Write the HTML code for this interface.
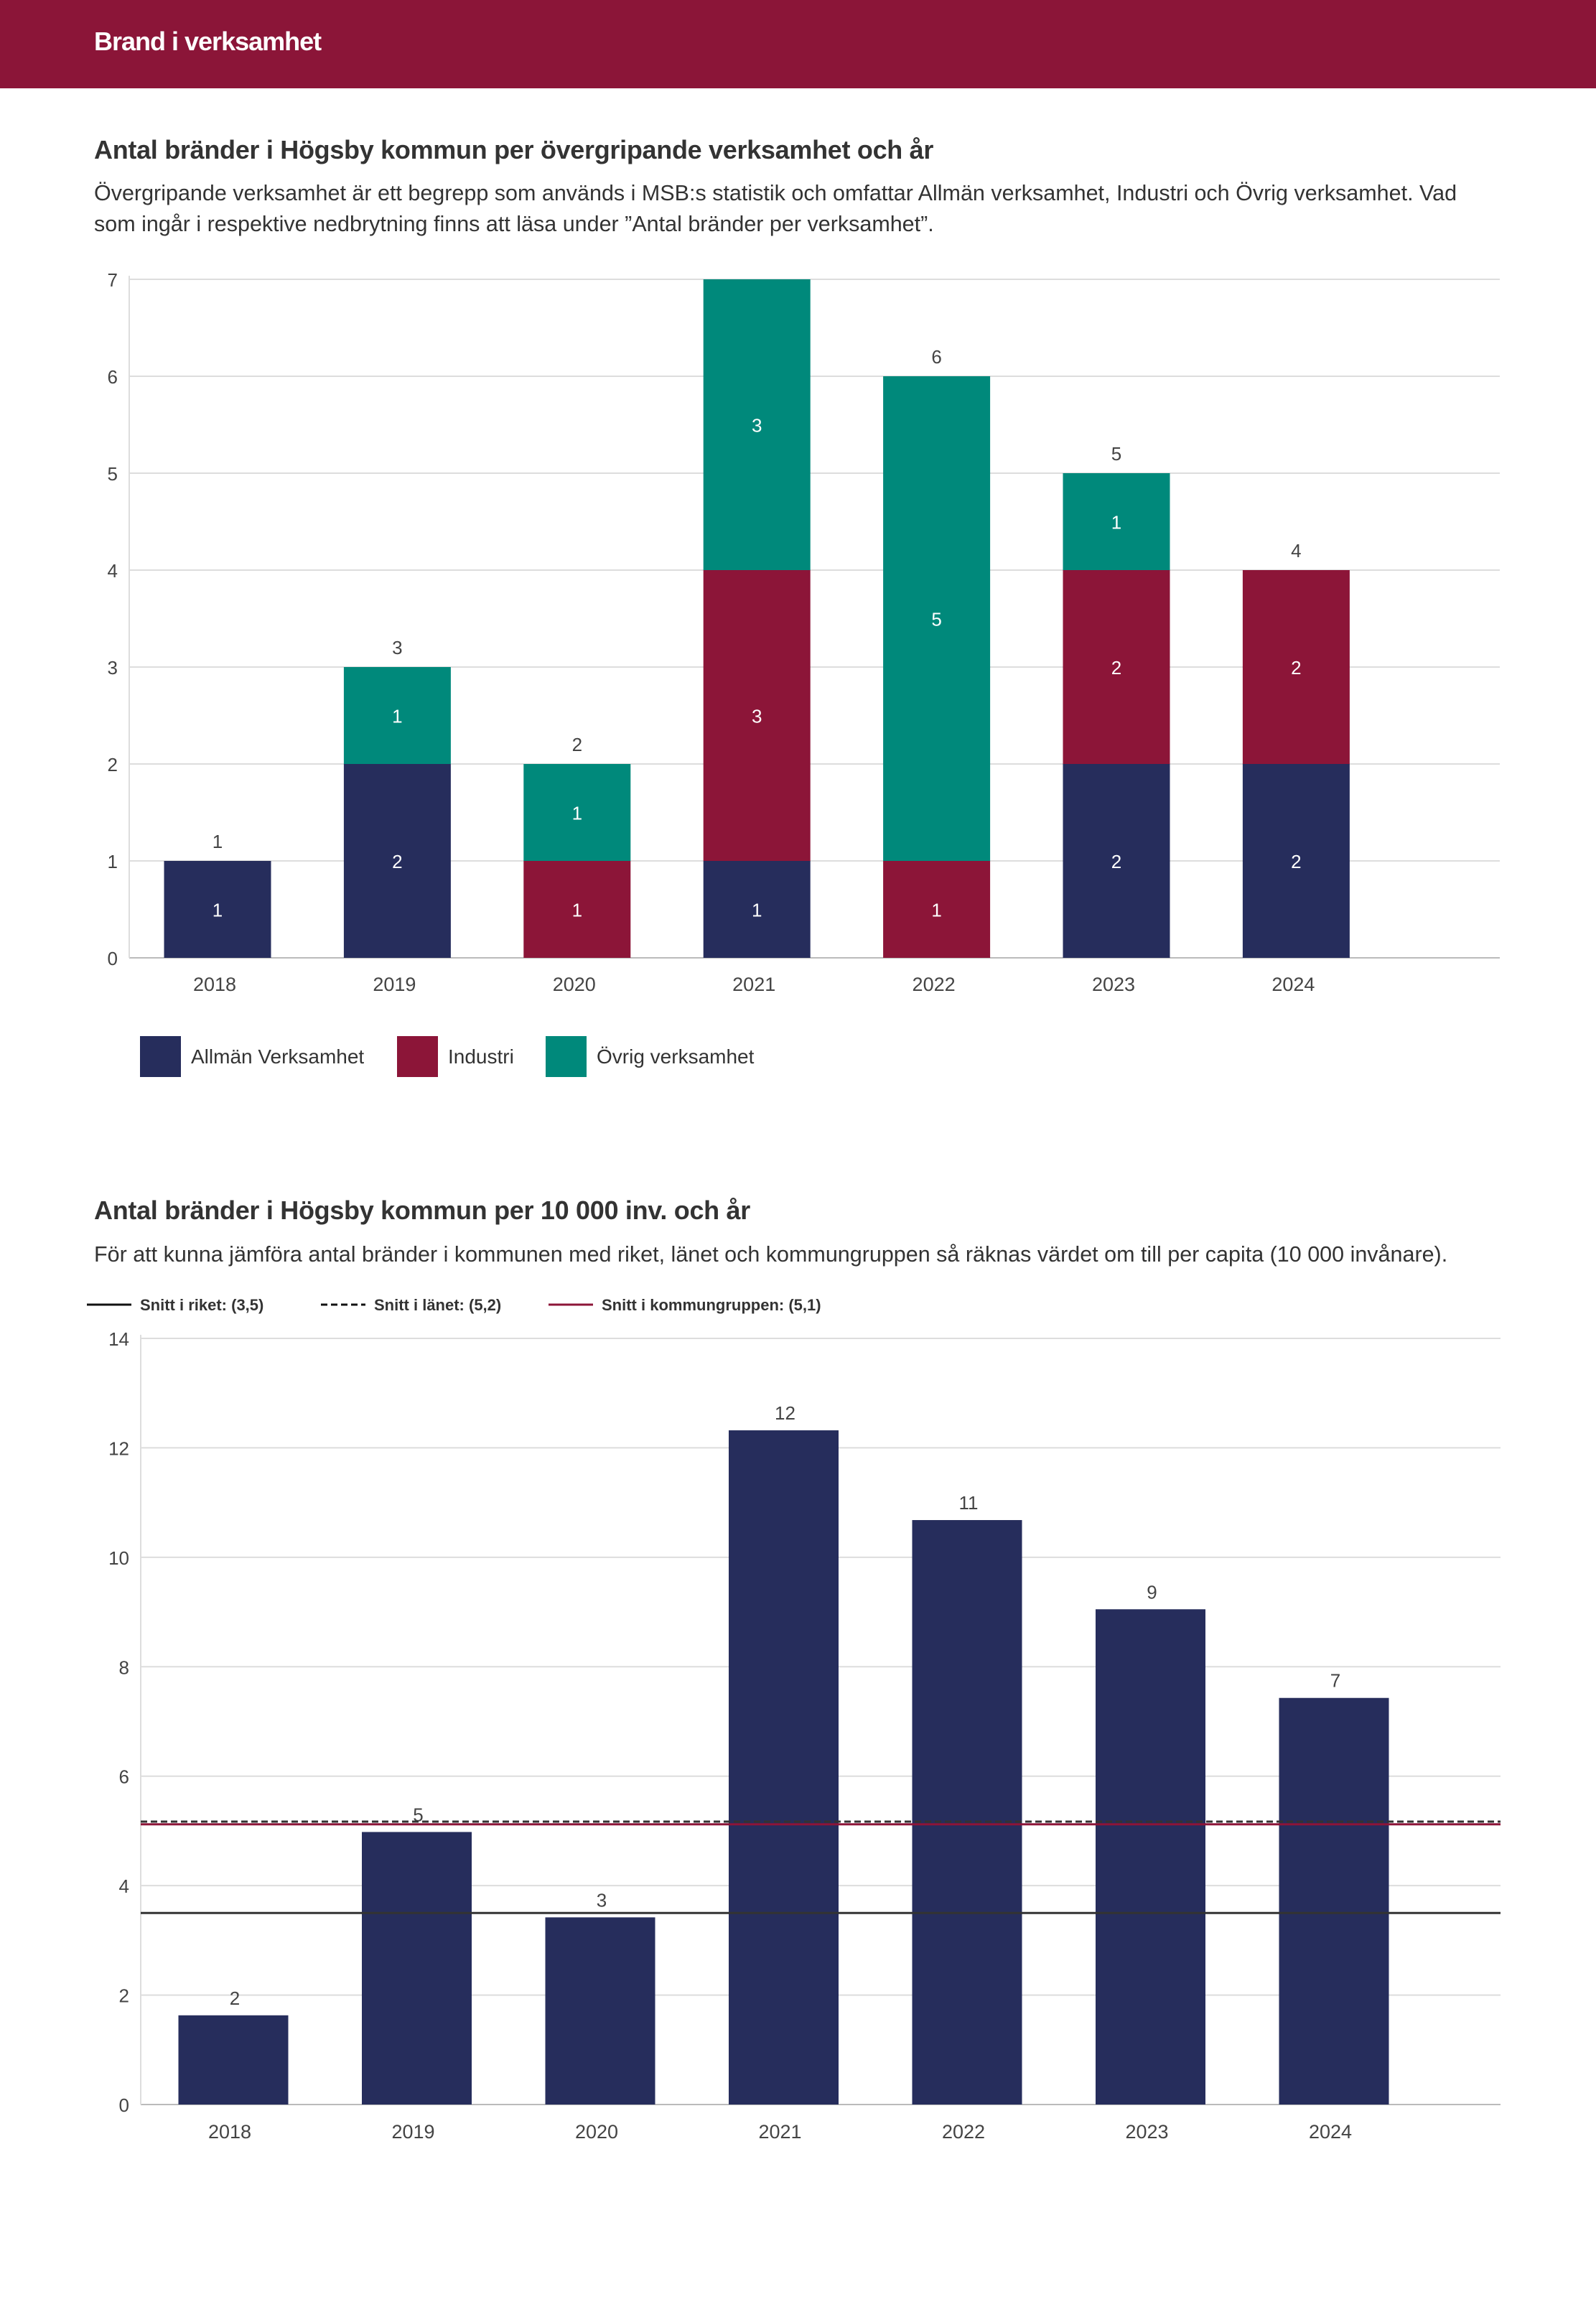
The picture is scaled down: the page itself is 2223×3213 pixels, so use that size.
<!DOCTYPE html>
<html><head><meta charset="utf-8"><style>
html,body{margin:0;padding:0;background:#fff;}
svg{display:block;font-family:"Liberation Sans",sans-serif;}
</style></head><body>
<svg id="root" width="2223" height="3213" viewBox="0 0 2223 3213" xmlns="http://www.w3.org/2000/svg">
<rect x="0" y="0" width="2223" height="123" fill="#8B1538"/>
<text x="131" y="70" fill="#fff" font-size="36" font-weight="bold" letter-spacing="-1">Brand i verksamhet</text>
<text x="131" y="221" fill="#333" font-size="36" font-weight="bold" letter-spacing="-0.3">Antal bränder i Högsby kommun per övergripande verksamhet och år</text>
<text fill="#333" font-size="30.5"><tspan x="131" y="279">Övergripande verksamhet är ett begrepp som används i MSB:s statistik och omfattar Allmän verksamhet, Industri och Övrig verksamhet. Vad</tspan><tspan x="131" y="322">som ingår i respektive nedbrytning finns att läsa under ”Antal bränder per verksamhet”.</tspan></text>
<g id="c1"></g>
<g id="l1"></g>
<text x="131" y="1698" fill="#333" font-size="36" font-weight="bold" letter-spacing="-0.3">Antal bränder i Högsby kommun per 10 000 inv. och år</text>
<text x="131" y="1757" fill="#333" font-size="30.5">För att kunna jämföra antal bränder i kommunen med riket, länet och kommungruppen så räknas värdet om till per capita (10 000 invånare).</text>
<g id="l2"></g>
<g id="c2"></g>
</svg>
<script>
const NS="http://www.w3.org/2000/svg";
const years=["2018","2019","2020","2021","2022","2023","2024"];
const allman=[1,2,0,1,0,2,2];
const industri=[0,0,1,3,1,2,2];
const ovrig=[0,1,1,3,5,1,0];
const yTicks1=[0,1,2,3,4,5,6,7];
const perCapita=[1.63,4.98,3.42,12.32,10.68,9.05,7.43];
const yTicks2=[0,2,4,6,8,10,12,14];
const avgRiket=[3.5];
const avgLanet=[5.17];
const avgGrupp=[5.12];

function mk(p,tag,a,txt){const e=document.createElementNS(NS,tag);for(const k in a)e.setAttribute(k,a[k]);if(txt!=null)e.textContent=txt;p.appendChild(e);return e;}

// Chart 1
(function(){
const g=document.getElementById('c1');
const x0=180,x1=2089,y0=1334,yTop=389,vmax=7;
const ys=v=>y0-(y0-yTop)*v/vmax;
const xc=i=>303+i*250.4;const bw=149;
yTicks1.forEach(t=>{
 const gl=mk(g,'line',{x1:x0,x2:x1,y1:ys(t),y2:ys(t),stroke:t===0?'#bbb':'#ddd','stroke-width':2});
 
 const tl=mk(g,'text',{x:164,y:ys(t)+10,'text-anchor':'end','font-size':26,fill:'#444'},t);
 
});
mk(g,'line',{x1:x0,x2:x0,y1:yTop-5,y2:y0,stroke:'#ddd','stroke-width':2});
const series=[[allman,'#262D5C','allman'],[industri,'#8C1538','industri'],[ovrig,'#00897B','ovrig']];
years.forEach((yr,i)=>{
 let acc=0;
 series.forEach(([arr,col,nm])=>{
  const v=arr[i];if(!v)return;
  const r=mk(g,'rect',{x:xc(i)-bw/2,y:ys(acc+v),width:bw,height:ys(acc)-ys(acc+v),fill:col});
  
  const t=mk(g,'text',{x:xc(i),y:(ys(acc)+ys(acc+v))/2+10,'text-anchor':'middle','font-size':26,fill:'#fff'},v);
  
  acc+=v;
 });
 if(acc<vmax){
 const tt=mk(g,'text',{x:xc(i),y:ys(acc)-18,'text-anchor':'middle','font-size':26,fill:'#444'},acc);
 
 }
 const xl=mk(g,'text',{x:xc(i)-4,y:1380,'text-anchor':'middle','font-size':27,fill:'#444'},yr);
 
});
const L=document.getElementById('l1');
[['Allmän Verksamhet','#262D5C',195],['Industri','#8C1538',553],['Övrig verksamhet','#00897B',760]].forEach(([n,c,x])=>{
 const r=mk(L,'rect',{x:x,y:1443,width:57,height:57,fill:c});
 
 const t=mk(L,'text',{x:x+71,y:1481,'font-size':28,fill:'#333'},n);
 
});
})();

// Chart 2
(function(){
const g=document.getElementById('c2');
const x0=196,x1=2090,y0=2931,yTop=1864,vmax=14;
const ys=v=>y0-(y0-yTop)*v/vmax;
const xc=i=>325+i*255.5;const bw=153;
yTicks2.forEach(t=>{
 const gl=mk(g,'line',{x1:x0,x2:x1,y1:ys(t),y2:ys(t),stroke:t===0?'#bbb':'#ddd','stroke-width':2});
 
 const tl=mk(g,'text',{x:180,y:ys(t)+10,'text-anchor':'end','font-size':26,fill:'#444'},t);
 
});
mk(g,'line',{x1:x0,x2:x0,y1:yTop-5,y2:y0,stroke:'#ddd','stroke-width':2});
years.forEach((yr,i)=>{
 const v=perCapita[i];
 const r=mk(g,'rect',{x:xc(i)-bw/2,y:ys(v),width:bw,height:y0-ys(v),fill:'#262D5C'});
 
 const t=mk(g,'text',{x:xc(i)+2,y:ys(v)-15,'text-anchor':'middle','font-size':26,fill:'#444'},Math.round(v));
 
 const xl=mk(g,'text',{x:xc(i)-5,y:2978,'text-anchor':'middle','font-size':27,fill:'#444'},yr);
 
});
const a=mk(g,'line',{x1:x0,x2:x1,y1:ys(avgRiket[0]),y2:ys(avgRiket[0]),stroke:'#333','stroke-width':3});

const b=mk(g,'line',{x1:x0,x2:x1,y1:ys(avgLanet[0]),y2:ys(avgLanet[0]),stroke:'#333','stroke-width':3,'stroke-dasharray':'9,5'});

const c=mk(g,'line',{x1:x0,x2:x1,y1:ys(avgGrupp[0]),y2:ys(avgGrupp[0]),stroke:'#8C1538','stroke-width':3});

const L=document.getElementById('l2');
[['Snitt i riket: (3,5)','#111',null,121],['Snitt i länet: (5,2)','#111','9,5',447],['Snitt i kommungruppen: (5,1)','#8C1538',null,764]].forEach(([n,col,d,x])=>{
 const ln=mk(L,'line',{x1:x,x2:x+62,y1:1817,y2:1817,stroke:col,'stroke-width':3});
 if(d)ln.setAttribute('stroke-dasharray',d);
 
 const t=mk(L,'text',{x:x+74,y:1825,'font-size':22,'font-weight':'bold',fill:'#333'},n);
 
});
})();
</script>
</body></html>
